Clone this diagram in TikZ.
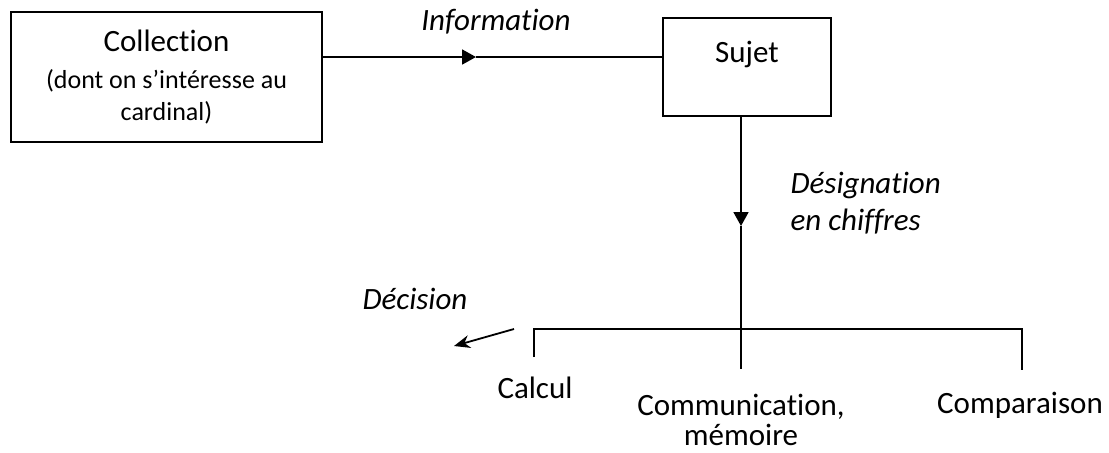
\documentclass[tikz,border=0pt]{standalone}
\usepackage{fontspec}
\setmainfont{Carlito}[Ligatures={NoCommon}]
\usetikzlibrary{arrows.meta}

\begin{document}
\begin{tikzpicture}[x=0.5pt, y=-0.5pt, line width=0.9pt,
  box/.style = {draw, rectangle, inner sep=0pt},
  big/.style = {font=\fontsize{15.5}{18.5}\selectfont},
  lbl/.style = {font=\fontsize{15.5}{18.5}\selectfont\itshape},
  head/.style = {-{Triangle[length=7pt, width=7.5pt]}}]
\useasboundingbox (0,0) rectangle (1109,452);
\node[box, minimum width=155.5pt, minimum height=65pt, align=center, font=\fontsize{13}{16}\selectfont] (coll) at (166.5,77) {{\fontsize{15.5}{18.5}\selectfont Collection}\\[2.5pt](dont on s’intéresse au\\cardinal)};
\node[box, big, minimum width=84pt, text height=22pt, text depth=27pt] (sujet) at (747,67) {Sujet};
\node[lbl] (info) at (496,22) {Information};
\node[lbl, align=left, anchor=west] (desig) at (783,203.5) {Désignation\\en chiffres};
\node[lbl, anchor=east] (dec) at (475,299) {Décision};
\node[big] (calc) at (535,388) {Calcul};
\node[big, align=center, font=\fontsize{15.5}{15}\selectfont] (comm) at (741,420) {Communication,\\mémoire};
\node[big] (comp) at (1020,405) {Comparaison};
\coordinate (infoTip) at (476,57);
\coordinate (desTip) at (741,226);
\coordinate (hub) at (741,329);
\coordinate (commTop) at (741,369);
\coordinate (calcTop) at (534,357);
\coordinate (compTop) at (1022,370);
\coordinate (decFrom) at (514,329);
\coordinate (decTo) at (454,346);
\draw[head] (coll.east |- infoTip) -- (infoTip);
\draw (infoTip) -- (sujet.west |- infoTip);
\draw[head] (hub |- sujet.south) -- (desTip);
\draw (desTip) -- (commTop);
\draw (calcTop) -- (calcTop |- hub) -- (compTop |- hub) -- (compTop);
\draw[-{Stealth[length=8pt, width=6.5pt]}] (decFrom) -- (decTo);
\end{tikzpicture}
\end{document}
